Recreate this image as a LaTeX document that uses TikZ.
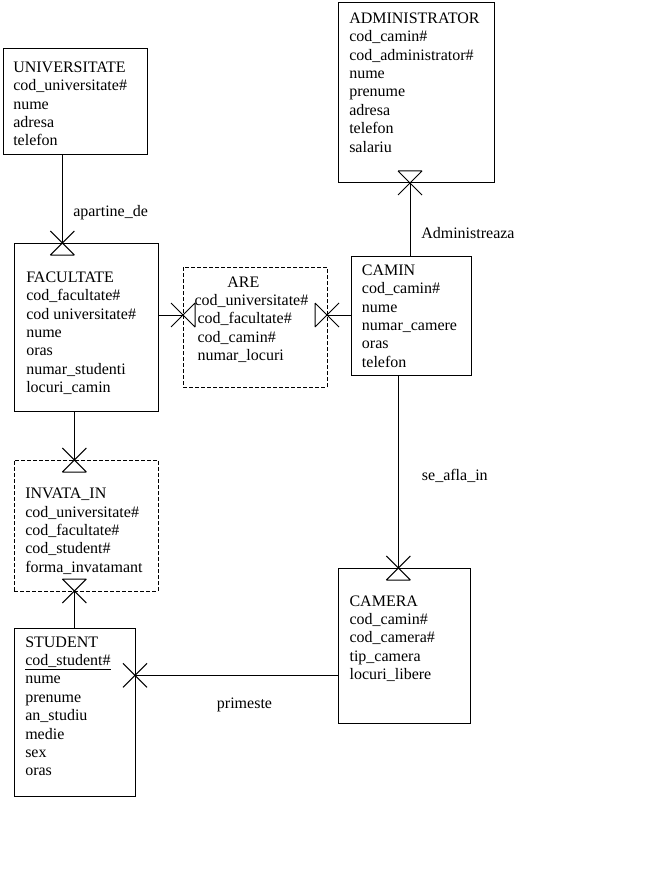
\documentclass[tikz,border=0pt]{standalone}
\usepackage{fontspec}
\setmainfont{Liberation Serif}
\usetikzlibrary{fit, calc}

\tikzset{
  entity/.style={draw, line width=0.75pt, inner sep=0pt},
  assoc/.style={entity, dash pattern=on 3pt off 1.5pt},
  fields/.style={anchor=north west, align=left, inner sep=0pt, font=\fontsize{12}{13.8}\selectfont},
  rel/.style={anchor=base west, inner sep=0pt, font=\fontsize{12}{13.8}\selectfont},
  conn/.style={line width=0.75pt},
}
% many-end: cross plus closing bar on the entity side
\newcommand{\manyend}[2]{\draw[conn, shift={(#1)}, rotate=#2] (-12,-12) -- (12,12) (-12,12) -- (12,-12) (12,-12) -- (12,12);}

\begin{document}
\begin{tikzpicture}[x=0.75pt, y=-0.75pt]
    \useasboundingbox (0,0) rectangle (663,891);

    % Entities
    \node[entity, fit={(338,3) (494,183)}] (admin) {};
    \node[fields] (admin-txt) at (349,12.5) {ADMINISTRATOR\\cod\_camin\#\\cod\_administrator\#\\nume\\prenume\\adresa\\telefon\\salariu};

    \node[entity, fit={(3,49) (147,155)}] (univ) {};
    \node[fields] (univ-txt) at (13,61.5) {UNIVERSITATE\\cod\_universitate\#\\nume\\adresa\\telefon};

    \node[entity, fit={(14,243) (158,411)}] (fac) {};
    \node[fields] (fac-txt) at (26,271.5) {FACULTATE\\cod\_facultate\#\\cod universitate\#\\nume\\oras\\numar\_studenti\\locuri\_camin};

    \node[assoc, fit={(183,267) (327,387)}] (are) {};
    \node[fields] (are-txt) at (197.3,276.2) {\hspace*{22.3pt}ARE\\\hspace*{-2.25pt}cod\_universitate\#\\cod\_facultate\#\\cod\_camin\#\\numar\_locuri};

    \node[entity, fit={(351,256) (471,375)}] (camin) {};
    \node[fields] (camin-txt) at (361.7,264.5) {CAMIN\\cod\_camin\#\\nume\\numar\_camere\\oras\\telefon};

    \node[assoc, fit={(14,460) (158,591)}] (invata) {};
    \node[fields] (invata-txt) at (25,487.8) {INVATA\_IN\\cod\_universitate\#\\cod\_facultate\#\\cod\_student\#\\forma\_invatamant};

    \node[entity, fit={(14,628) (135,796)}] (student) {};
    \node[fields] (student-txt) at (25,636.2) {STUDENT\\\underline{cod\_student\#}\\nume\\prenume\\an\_studiu\\medie\\sex\\oras};

    \node[entity, fit={(338,568) (470,723)}] (camera) {};
    \node[fields] (camera-txt) at (349.3,595.2) {CAMERA\\cod\_camin\#\\cod\_camera\#\\tip\_camera\\locuri\_libere};

    % Relationship ends
    \coordinate (fa1) at (62.3,243);
    \coordinate (ad1) at (410,183);
    \coordinate (ar1) at (183,315);
    \coordinate (ar2) at (327,315);
    \coordinate (in1) at (74.3,460);
    \coordinate (in2) at (74.3,591);
    \coordinate (cm1) at (398.3,568);
    \coordinate (st1) at (135,675.3);

    % Relationships
    \draw[conn] (univ.south -| fa1) -- (fa1);
    \manyend{fa1}{-90}
    \draw[conn] (camin.north -| ad1) -- (ad1);
    \manyend{ad1}{90}
    \draw[conn] (fac.east |- ar1) -- (ar1);
    \manyend{ar1}{0}
    \draw[conn] (camin.west |- ar2) -- (ar2);
    \manyend{ar2}{180}
    \draw[conn] (fac.south -| in1) -- (in1);
    \manyend{in1}{-90}
    \draw[conn] (student.north -| in2) -- (in2);
    \manyend{in2}{90}
    \draw[conn] (camin.south -| cm1) -- (cm1);
    \manyend{cm1}{-90}
    \draw[conn] (camera.west |- st1) -- (st1);
    \draw[conn, shift={(st1)}] (-12,-12) -- (12,12) (-12,12) -- (12,-12);

    % Labels
    \node[rel] (apartine) at (73,216.3) {apartine\_de};
    \node[rel] (administreaza) at (421,238.5) {Administreaza};
    \node[rel] (se-afla) at (421.7,480) {se\_afla\_in};
    \node[rel] (primeste) at (216.7,708.3) {primeste};
\end{tikzpicture}
\end{document}
